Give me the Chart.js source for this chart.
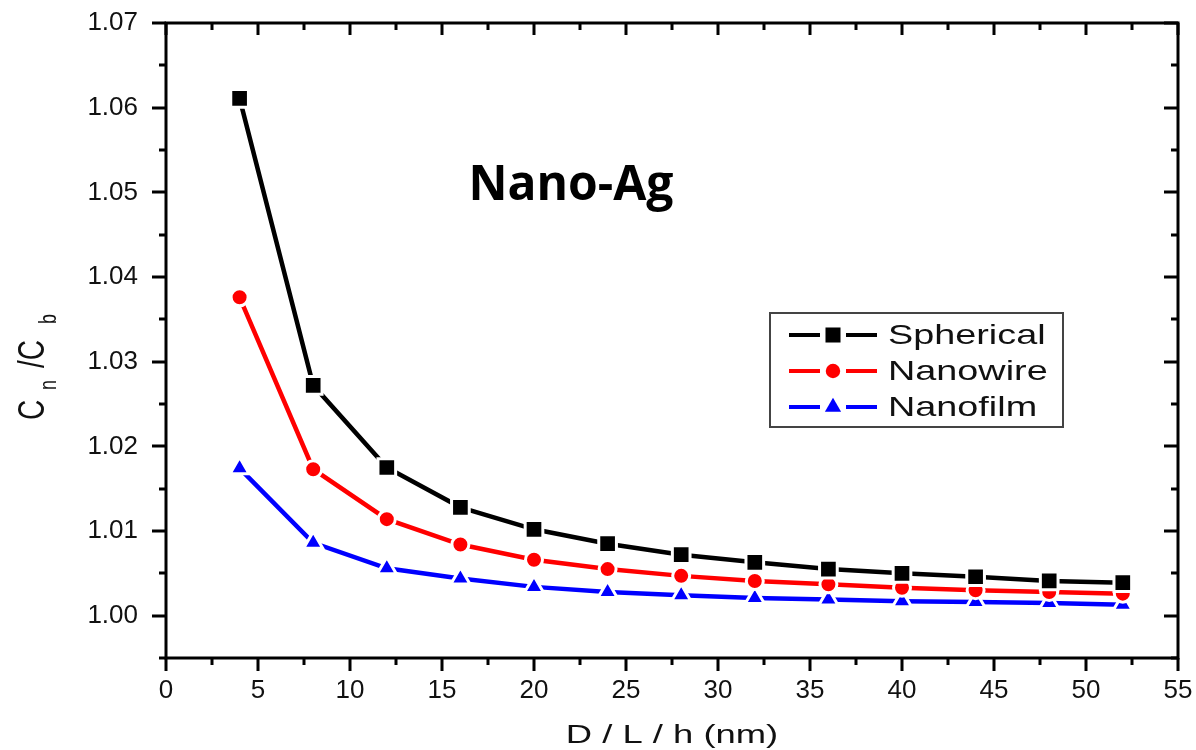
<!DOCTYPE html>
<html>
<head>
<meta charset="utf-8">
<script src="https://cdn.jsdelivr.net/npm/chart.js@4.4.1/dist/chart.umd.min.js"></script>
<style>
  html, body { margin: 0; padding: 0; background: #fff; }
  canvas { display: block; }
</style>
</head>
<body>
<canvas id="chart" width="1196" height="750"></canvas>
<script>
// particle size D, wire diameter L, film thickness h (nm)
var sizes = [4, 8, 12, 16, 20, 24, 28, 32, 36, 40, 44, 48, 52];

// Cn / Cb ratio for each shape
var spherical = [1.0611, 1.0272, 1.0175, 1.0128, 1.0102, 1.0085, 1.0072, 1.0063, 1.0055, 1.0050, 1.0046, 1.0041, 1.0039];
var nanowire  = [1.0376, 1.0173, 1.0114, 1.0084, 1.0066, 1.0055, 1.0047, 1.0041, 1.0037, 1.0033, 1.0030, 1.0028, 1.0026];
var nanofilm  = [1.0174, 1.0086, 1.0056, 1.0044, 1.0034, 1.0028, 1.0024, 1.0021, 1.0019, 1.0017, 1.0016, 1.0015, 1.0013];

var seriesNames = ['Spherical', 'Nanowire', 'Nanofilm'];

var X_MIN = 0, X_MAX = 55, X_STEP = 2.5;
var Y_MIN = 0.995, Y_MAX = 1.07, Y_STEP = 0.005;

var FONT = "'Liberation Sans', Arial, sans-serif";
var INK = '#111111';

var styles = [
  { color: '#000000', pointStyle: 'rect', radius: 12.5 },
  { color: '#ff0000', pointStyle: 'circle', radius: 8.5 },
  { color: '#0000ff', pointStyle: 'triangle', radius: 11 }
];

function toPoints(ys) {
  return sizes.map(function (x, i) { return { x: x, y: ys[i] }; });
}

function makeDataset(label, ys, st) {
  return {
    label: label,
    data: toPoints(ys),
    borderColor: st.color,
    backgroundColor: st.color,
    borderWidth: 4.5,
    tension: 0,
    pointStyle: st.pointStyle,
    pointRadius: st.radius,
    pointBackgroundColor: st.color,
    pointBorderColor: '#ffffff',
    pointBorderWidth: 3,
    pointHoverRadius: st.radius
  };
}

function isMajor(v, every) {
  return Math.abs(v / every - Math.round(v / every)) < 1e-6;
}

// box, ticks on all four sides, axis titles, caption and legend
var decorations = {
  id: 'decorations',
  afterDatasetsDraw: function (chart) {
    var ctx = chart.ctx;
    var a = chart.chartArea;
    var xs = chart.scales.x, ys = chart.scales.y;

    ctx.save();
    ctx.strokeStyle = '#000';
    ctx.lineWidth = 3;
    ctx.lineCap = 'butt';

    ctx.beginPath();
    xs.ticks.forEach(function (t) {
      var px = Math.round(xs.getPixelForValue(t.value));
      var major = isMajor(t.value, 5);
      var outL = major ? 13 : 7, inL = major ? 12 : 7;
      ctx.moveTo(px, a.bottom);
      ctx.lineTo(px, a.bottom + outL);
      ctx.moveTo(px, a.top);
      ctx.lineTo(px, a.top + inL);
    });
    ys.ticks.forEach(function (t) {
      var py = Math.round(ys.getPixelForValue(t.value));
      var major = isMajor(t.value, 0.01);
      var outL = major ? 14 : 7, inL = major ? 14 : 7;
      ctx.moveTo(a.left, py);
      ctx.lineTo(a.left - outL, py);
      ctx.moveTo(a.right, py);
      ctx.lineTo(a.right - inL, py);
    });
    ctx.stroke();

    ctx.strokeRect(a.left, a.top, a.right - a.left, a.bottom - a.top);

    // x axis title
    ctx.fillStyle = INK;
    ctx.save();
    ctx.translate((a.left + a.right) / 2, 743);
    ctx.scale(1.4, 1);
    ctx.font = '26px ' + FONT;
    ctx.textAlign = 'center';
    ctx.textBaseline = 'alphabetic';
    ctx.fillText('D / L / h (nm)', 0, 0);
    ctx.restore();

    // y axis title with subscripts
    ctx.save();
    ctx.translate(44, 364);
    ctx.rotate(-Math.PI / 2);
    ctx.scale(1, 1.35);
    ctx.textAlign = 'left';
    ctx.textBaseline = 'alphabetic';
    ctx.font = '28px ' + FONT;
    ctx.fillText('C', -56, 0);
    ctx.fillText('/C', -4, 0);
    ctx.font = '18px ' + FONT;
    ctx.fillText('n', -26, 9);
    ctx.fillText('b', 40, 9);
    ctx.restore();

    // caption
    ctx.font = "bold 48px 'Open Sans', " + FONT;
    ctx.textAlign = 'center';
    ctx.textBaseline = 'alphabetic';
    ctx.fillStyle = '#000';
    ctx.fillText('Nano-Ag', 571, 200);

    // legend
    var lx = 770, ly = 313, lw = 293, lh = 114;
    ctx.strokeStyle = '#444';
    ctx.lineWidth = 2;
    ctx.strokeRect(lx, ly, lw, lh);

    chart.data.datasets.forEach(function (ds, i) {
      var st = styles[i];
      var rowY = 335 + i * 36;
      ctx.strokeStyle = st.color;
      ctx.lineWidth = 4;
      ctx.beginPath();
      ctx.moveTo(789, rowY);
      ctx.lineTo(820, rowY);
      ctx.moveTo(846, rowY);
      ctx.lineTo(877, rowY);
      ctx.stroke();

      ctx.fillStyle = st.color;
      Chart.helpers.drawPoint(ctx, {
        pointStyle: st.pointStyle,
        radius: st.radius * 0.85,
        borderWidth: 0,
        rotation: 0
      }, 833, rowY);

      ctx.save();
      ctx.translate(888, rowY);
      ctx.scale(1.35, 1);
      ctx.fillStyle = INK;
      ctx.font = '28px ' + FONT;
      ctx.textAlign = 'left';
      ctx.textBaseline = 'middle';
      ctx.fillText(ds.label, 0, 1);
      ctx.restore();
    });

    ctx.restore();
  }
};

new Chart(document.getElementById('chart'), {
  type: 'line',
  data: {
    datasets: [
      makeDataset(seriesNames[0], spherical, styles[0]),
      makeDataset(seriesNames[1], nanowire, styles[1]),
      makeDataset(seriesNames[2], nanofilm, styles[2])
    ]
  },
  options: {
    responsive: false,
    animation: false,
    layout: { padding: { left: 0, top: 23, right: 18, bottom: 0 } },
    plugins: {
      legend: { display: false },
      tooltip: { enabled: false }
    },
    scales: {
      x: {
        type: 'linear',
        min: X_MIN,
        max: X_MAX,
        grid: { display: false, drawTicks: false },
        border: { display: false },
        afterFit: function (scale) {
          scale.height = 92;
          scale.paddingLeft = 0;
          scale.paddingRight = 0;
        },
        ticks: {
          stepSize: X_STEP,
          autoSkip: false,
          maxRotation: 0,
          padding: 17,
          color: INK,
          font: { family: FONT, size: 26 },
          callback: function (v) { return isMajor(v, 5) ? String(Math.round(v)) : ''; }
        }
      },
      y: {
        type: 'linear',
        min: Y_MIN,
        max: Y_MAX,
        grid: { display: false, drawTicks: false },
        border: { display: false },
        afterFit: function (scale) {
          scale.width = 166;
          scale.paddingTop = 0;
          scale.paddingBottom = 0;
        },
        ticks: {
          stepSize: Y_STEP,
          autoSkip: false,
          padding: 28,
          color: INK,
          font: { family: FONT, size: 26 },
          callback: function (v) { return isMajor(v, 0.01) ? v.toFixed(2) : ''; }
        }
      }
    }
  },
  plugins: [decorations]
});
</script>
</body>
</html>
